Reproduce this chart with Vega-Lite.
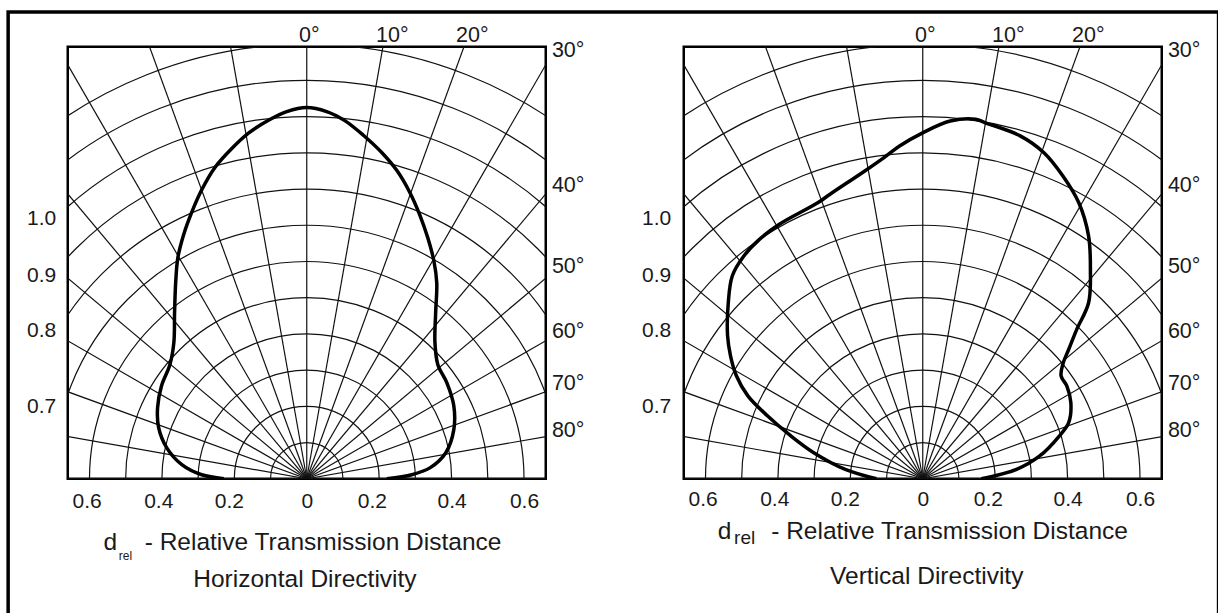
{
  "$schema": "https://vega.github.io/schema/vega-lite/v6.json",
  "background": "white",
  "padding": {"left": 4.75, "top": 8.75, "right": 0, "bottom": 0},
  "spacing": 138,
  "bounds": "flush",
  "config": {
    "view": {"stroke": "black", "strokeWidth": 2.5},
    "font": "Liberation Sans",
    "text": {"font": "Liberation Sans", "color": "#1a1a1a"},
    "axis": {"labelFont": "Liberation Sans", "labelColor": "#1a1a1a", "grid": false, "domain": false, "ticks": false, "tickSize": 0, "title": null, "labelFontSize": 21}
  },
  "datasets": {
    "arcs": [{"r": 0.1, "c": 0, "z": 0}, {"r": 0.2, "c": 0, "z": 0}, {"r": 0.3, "c": 0, "z": 0}, {"r": 0.4, "c": 0, "z": 0}, {"r": 0.5, "c": 0, "z": 0}, {"r": 0.6, "c": 0, "z": 0}, {"r": 0.7, "c": 0, "z": 0}, {"r": 0.8, "c": 0, "z": 0}, {"r": 0.9, "c": 0, "z": 0}, {"r": 1.0, "c": 0, "z": 0}, {"r": 1.1, "c": 0, "z": 0}, {"r": 1.2, "c": 0, "z": 0}],
    "rays": [
      {"a": -80, "x0": 0, "y0": 0, "x": -1.9696, "y": 0.3473}, {"a": -70, "x0": 0, "y0": 0, "x": -1.8794, "y": 0.684}, {"a": -60, "x0": 0, "y0": 0, "x": -1.7321, "y": 1.0},
      {"a": -50, "x0": 0, "y0": 0, "x": -1.5321, "y": 1.2856}, {"a": -40, "x0": 0, "y0": 0, "x": -1.2856, "y": 1.5321}, {"a": -30, "x0": 0, "y0": 0, "x": -1.0, "y": 1.7321},
      {"a": -20, "x0": 0, "y0": 0, "x": -0.684, "y": 1.8794}, {"a": -10, "x0": 0, "y0": 0, "x": -0.3473, "y": 1.9696}, {"a": 0, "x0": 0, "y0": 0, "x": 0, "y": 2.0},
      {"a": 10, "x0": 0, "y0": 0, "x": 0.3473, "y": 1.9696}, {"a": 20, "x0": 0, "y0": 0, "x": 0.684, "y": 1.8794}, {"a": 30, "x0": 0, "y0": 0, "x": 1.0, "y": 1.7321},
      {"a": 40, "x0": 0, "y0": 0, "x": 1.2856, "y": 1.5321}, {"a": 50, "x0": 0, "y0": 0, "x": 1.5321, "y": 1.2856}, {"a": 60, "x0": 0, "y0": 0, "x": 1.7321, "y": 1.0},
      {"a": 70, "x0": 0, "y0": 0, "x": 1.8794, "y": 0.684}, {"a": 80, "x0": 0, "y0": 0, "x": 1.9696, "y": 0.3473}
    ],
    "h": [
      {"i": 1, "x": -0.229, "y": 0.0}, {"i": 2, "x": -0.29, "y": 0.011}, {"i": 3, "x": -0.345, "y": 0.039},
      {"i": 4, "x": -0.387, "y": 0.086}, {"i": 5, "x": -0.409, "y": 0.141}, {"i": 6, "x": -0.412, "y": 0.196},
      {"i": 7, "x": -0.401, "y": 0.257}, {"i": 8, "x": -0.378, "y": 0.315}, {"i": 9, "x": -0.367, "y": 0.376},
      {"i": 10, "x": -0.365, "y": 0.459}, {"i": 11, "x": -0.362, "y": 0.541}, {"i": 12, "x": -0.356, "y": 0.61},
      {"i": 13, "x": -0.34, "y": 0.674}, {"i": 14, "x": -0.318, "y": 0.735}, {"i": 15, "x": -0.29, "y": 0.798},
      {"i": 16, "x": -0.254, "y": 0.859}, {"i": 17, "x": -0.207, "y": 0.912}, {"i": 18, "x": -0.16, "y": 0.955},
      {"i": 19, "x": -0.102, "y": 0.992}, {"i": 20, "x": -0.055, "y": 1.014}, {"i": 21, "x": 0.0, "y": 1.025},
      {"i": 22, "x": 0.055, "y": 1.014}, {"i": 23, "x": 0.105, "y": 0.989}, {"i": 24, "x": 0.157, "y": 0.948},
      {"i": 25, "x": 0.207, "y": 0.901}, {"i": 26, "x": 0.249, "y": 0.851}, {"i": 27, "x": 0.285, "y": 0.79},
      {"i": 28, "x": 0.312, "y": 0.729}, {"i": 29, "x": 0.334, "y": 0.666}, {"i": 30, "x": 0.351, "y": 0.602},
      {"i": 31, "x": 0.359, "y": 0.541}, {"i": 32, "x": 0.356, "y": 0.459}, {"i": 33, "x": 0.354, "y": 0.376},
      {"i": 34, "x": 0.362, "y": 0.315}, {"i": 35, "x": 0.387, "y": 0.265}, {"i": 36, "x": 0.406, "y": 0.202},
      {"i": 37, "x": 0.406, "y": 0.135}, {"i": 38, "x": 0.384, "y": 0.072}, {"i": 39, "x": 0.34, "y": 0.03},
      {"i": 40, "x": 0.29, "y": 0.011}, {"i": 41, "x": 0.221, "y": 0.0}
    ],
    "v": [
      {"i": 1, "x": -0.128, "y": 0.0}, {"i": 2, "x": -0.214, "y": 0.026}, {"i": 3, "x": -0.301, "y": 0.072},
      {"i": 4, "x": -0.365, "y": 0.119}, {"i": 5, "x": -0.429, "y": 0.174}, {"i": 6, "x": -0.483, "y": 0.229},
      {"i": 7, "x": -0.515, "y": 0.285}, {"i": 8, "x": -0.531, "y": 0.34}, {"i": 9, "x": -0.539, "y": 0.395},
      {"i": 10, "x": -0.537, "y": 0.486}, {"i": 11, "x": -0.526, "y": 0.56}, {"i": 12, "x": -0.494, "y": 0.615},
      {"i": 13, "x": -0.451, "y": 0.661}, {"i": 14, "x": -0.397, "y": 0.702}, {"i": 15, "x": -0.29, "y": 0.762},
      {"i": 16, "x": -0.257, "y": 0.785}, {"i": 17, "x": -0.16, "y": 0.85}, {"i": 18, "x": -0.107, "y": 0.887},
      {"i": 19, "x": -0.064, "y": 0.919}, {"i": 20, "x": 0.001, "y": 0.956}, {"i": 21, "x": 0.076, "y": 0.988},
      {"i": 22, "x": 0.146, "y": 0.993}, {"i": 23, "x": 0.173, "y": 0.983}, {"i": 24, "x": 0.269, "y": 0.947},
      {"i": 25, "x": 0.334, "y": 0.901}, {"i": 26, "x": 0.387, "y": 0.836}, {"i": 27, "x": 0.431, "y": 0.762},
      {"i": 28, "x": 0.458, "y": 0.67}, {"i": 29, "x": 0.463, "y": 0.578}, {"i": 30, "x": 0.458, "y": 0.486},
      {"i": 31, "x": 0.425, "y": 0.412}, {"i": 32, "x": 0.403, "y": 0.357}, {"i": 33, "x": 0.388, "y": 0.32},
      {"i": 34, "x": 0.382, "y": 0.284}, {"i": 35, "x": 0.398, "y": 0.256}, {"i": 36, "x": 0.409, "y": 0.21},
      {"i": 37, "x": 0.403, "y": 0.155}, {"i": 38, "x": 0.377, "y": 0.118}, {"i": 39, "x": 0.323, "y": 0.063},
      {"i": 40, "x": 0.259, "y": 0.026}, {"i": 41, "x": 0.162, "y": 0.0}
    ],
    "angles": [
      {"t": "0°", "x": 0.007, "y": 1.207, "side": "top"},
      {"t": "10°", "x": 0.236, "y": 1.207, "side": "top"},
      {"t": "20°", "x": 0.457, "y": 1.207, "side": "top"},
      {"t": "30°", "x": 0.677, "y": 1.18, "side": "right"},
      {"t": "40°", "x": 0.677, "y": 0.808, "side": "right"},
      {"t": "50°", "x": 0.677, "y": 0.586, "side": "right"},
      {"t": "60°", "x": 0.677, "y": 0.405, "side": "right"},
      {"t": "70°", "x": 0.677, "y": 0.262, "side": "right"},
      {"t": "80°", "x": 0.677, "y": 0.131, "side": "right"}
    ],
    "titles": [
      {"p": "h", "role": "L", "t": "d", "x": -0.561, "y": -0.196},
      {"p": "h", "role": "L", "t": "- Relative Transmission Distance", "x": -0.4475, "y": -0.196},
      {"p": "h", "role": "S", "t": "rel", "x": -0.519, "y": -0.224},
      {"p": "h", "role": "C", "t": "Horizontal Directivity", "x": -0.005, "y": -0.298},
      {"p": "v", "role": "L", "t": "d", "x": -0.566, "y": -0.166},
      {"p": "v", "role": "L", "t": "- Relative Transmission Distance", "x": -0.4185, "y": -0.166},
      {"p": "v", "role": "S", "t": "rel", "x": -0.521, "y": -0.1815},
      {"p": "v", "role": "C", "t": "Vertical Directivity", "x": 0.011, "y": -0.29}
    ],
    "frame": [{"x1": -0.8246, "x2": 2.518, "y1": 1.2887, "y2": -0.41}]
  },
  "hconcat": [
    {
      "width": 478,
      "height": 432,
      "layer": [
        {
          "data": {"name": "arcs"},
          "mark": {"type": "arc", "filled": false, "stroke": "#111", "strokeWidth": 1.2, "clip": true, "theta": -1.5708, "theta2": 1.5708},
          "encoding": {
            "x": {"field": "c", "type": "quantitative", "scale": {"domain": [-0.66, 0.66], "nice": false, "zero": false}},
            "y": {"field": "z", "type": "quantitative", "scale": {"domain": [0, 1.193], "nice": false, "zero": false}},
            "radius": {"field": "r", "type": "quantitative", "stack": null, "scale": {"type": "linear", "domain": [0, 1.32], "range": [0, 478], "zero": true}}
          }
        },
        {
          "data": {"name": "rays"},
          "mark": {"type": "rule", "stroke": "#111", "strokeWidth": 1.2, "clip": true},
          "encoding": {
            "x": {"field": "x0", "type": "quantitative", "scale": {"domain": [-0.66, 0.66], "nice": false, "zero": false}},
            "y": {"field": "y0", "type": "quantitative", "scale": {"domain": [0, 1.193], "nice": false, "zero": false}},
            "x2": {"field": "x"},
            "y2": {"field": "y"}
          }
        },
        {
          "data": {"name": "h"},
          "mark": {"type": "line", "stroke": "black", "strokeWidth": 3.5, "interpolate": "catmull-rom", "clip": true},
          "encoding": {
            "x": {"field": "x", "type": "quantitative", "scale": {"domain": [-0.66, 0.66], "nice": false, "zero": false},
              "axis": {"values": [-0.608, -0.41, -0.215, 0, 0.18, 0.4, 0.6], "labelExpr": "datum.value == 0 ? '0' : format(abs(round(datum.value*5))/5, '.1f')", "title": null, "domain": false, "ticks": false, "tickSize": 0, "grid": false, "labelPadding": 12, "labelFontSize": 21, "labelFlush": false, "labelOverlap": false}},
            "y": {"field": "y", "type": "quantitative", "scale": {"domain": [0, 1.193], "nice": false, "zero": false},
              "axis": {"values": [0.199, 0.41, 0.561, 0.719], "labelExpr": "datum.value > 0.65 ? '1.0' : datum.value > 0.5 ? '0.9' : datum.value > 0.3 ? '0.8' : '0.7'", "title": null, "domain": false, "ticks": false, "tickSize": 0, "grid": false, "labelPadding": 12, "labelFontSize": 21, "labelFlush": false, "labelOverlap": false}},
            "order": {"field": "i", "type": "quantitative"}
          }
        },
        {
          "data": {"name": "angles"},
          "transform": [{"filter": "datum.side == 'top'"}],
          "mark": {"type": "text", "align": "center", "baseline": "alphabetic", "fontSize": 21.5},
          "encoding": {
            "x": {"field": "x", "type": "quantitative", "scale": {"domain": [-0.66, 0.66], "nice": false, "zero": false}},
            "y": {"field": "y", "type": "quantitative", "scale": {"domain": [0, 1.193], "nice": false, "zero": false}},
            "text": {"field": "t"}
          }
        },
        {
          "data": {"name": "angles"},
          "transform": [{"filter": "datum.side == 'right'"}],
          "mark": {"type": "text", "align": "left", "baseline": "middle", "fontSize": 21.5},
          "encoding": {
            "x": {"field": "x", "type": "quantitative", "scale": {"domain": [-0.66, 0.66], "nice": false, "zero": false}},
            "y": {"field": "y", "type": "quantitative", "scale": {"domain": [0, 1.193], "nice": false, "zero": false}},
            "text": {"field": "t"}
          }
        },
        {
          "data": {"name": "titles"},
          "transform": [{"filter": "datum.p == 'h' && datum.role == 'L'"}],
          "mark": {"type": "text", "align": "left", "baseline": "alphabetic", "fontSize": 24.5},
          "encoding": {
            "x": {"field": "x", "type": "quantitative", "scale": {"domain": [-0.66, 0.66], "nice": false, "zero": false}},
            "y": {"field": "y", "type": "quantitative", "scale": {"domain": [0, 1.193], "nice": false, "zero": false}},
            "text": {"field": "t"}
          }
        },
        {
          "data": {"name": "titles"},
          "transform": [{"filter": "datum.p == 'h' && datum.role == 'S'"}],
          "mark": {"type": "text", "align": "left", "baseline": "alphabetic", "fontSize": 12},
          "encoding": {
            "x": {"field": "x", "type": "quantitative", "scale": {"domain": [-0.66, 0.66], "nice": false, "zero": false}},
            "y": {"field": "y", "type": "quantitative", "scale": {"domain": [0, 1.193], "nice": false, "zero": false}},
            "text": {"field": "t"}
          }
        },
        {
          "data": {"name": "titles"},
          "transform": [{"filter": "datum.p == 'h' && datum.role == 'C'"}],
          "mark": {"type": "text", "align": "center", "baseline": "alphabetic", "fontSize": 24.5},
          "encoding": {
            "x": {"field": "x", "type": "quantitative", "scale": {"domain": [-0.66, 0.66], "nice": false, "zero": false}},
            "y": {"field": "y", "type": "quantitative", "scale": {"domain": [0, 1.193], "nice": false, "zero": false}},
            "text": {"field": "t"}
          }
        },
        {
          "data": {"name": "frame"},
          "mark": {"type": "rect", "filled": false, "stroke": "black", "strokeWidth": 3.5, "clip": false},
          "encoding": {
            "x": {"field": "x1", "type": "quantitative", "scale": {"domain": [-0.66, 0.66], "nice": false, "zero": false}},
            "x2": {"field": "x2"},
            "y": {"field": "y1", "type": "quantitative", "scale": {"domain": [0, 1.193], "nice": false, "zero": false}},
            "y2": {"field": "y2"}
          }
        }
      ]
    },
    {
      "width": 478,
      "height": 432,
      "layer": [
        {
          "data": {"name": "arcs"},
          "mark": {"type": "arc", "filled": false, "stroke": "#111", "strokeWidth": 1.2, "clip": true, "theta": -1.5708, "theta2": 1.5708},
          "encoding": {
            "x": {"field": "c", "type": "quantitative", "scale": {"domain": [-0.66, 0.66], "nice": false, "zero": false}},
            "y": {"field": "z", "type": "quantitative", "scale": {"domain": [0, 1.193], "nice": false, "zero": false}},
            "radius": {"field": "r", "type": "quantitative", "stack": null, "scale": {"type": "linear", "domain": [0, 1.32], "range": [0, 478], "zero": true}}
          }
        },
        {
          "data": {"name": "rays"},
          "mark": {"type": "rule", "stroke": "#111", "strokeWidth": 1.2, "clip": true},
          "encoding": {
            "x": {"field": "x0", "type": "quantitative", "scale": {"domain": [-0.66, 0.66], "nice": false, "zero": false}},
            "y": {"field": "y0", "type": "quantitative", "scale": {"domain": [0, 1.193], "nice": false, "zero": false}},
            "x2": {"field": "x"},
            "y2": {"field": "y"}
          }
        },
        {
          "data": {"name": "v"},
          "mark": {"type": "line", "stroke": "black", "strokeWidth": 3.5, "interpolate": "catmull-rom", "clip": true},
          "encoding": {
            "x": {"field": "x", "type": "quantitative", "scale": {"domain": [-0.66, 0.66], "nice": false, "zero": false},
              "axis": {"values": [-0.608, -0.41, -0.215, 0, 0.18, 0.4, 0.6], "labelExpr": "datum.value == 0 ? '0' : format(abs(round(datum.value*5))/5, '.1f')", "title": null, "domain": false, "ticks": false, "tickSize": 0, "grid": false, "labelPadding": 10, "labelFontSize": 21, "labelFlush": false, "labelOverlap": false}},
            "y": {"field": "y", "type": "quantitative", "scale": {"domain": [0, 1.193], "nice": false, "zero": false},
              "axis": {"values": [0.199, 0.41, 0.561, 0.719], "labelExpr": "datum.value > 0.65 ? '1.0' : datum.value > 0.5 ? '0.9' : datum.value > 0.3 ? '0.8' : '0.7'", "title": null, "domain": false, "ticks": false, "tickSize": 0, "grid": false, "labelPadding": 13, "labelFontSize": 21, "labelFlush": false, "labelOverlap": false}},
            "order": {"field": "i", "type": "quantitative"}
          }
        },
        {
          "data": {"name": "angles"},
          "transform": [{"filter": "datum.side == 'top'"}],
          "mark": {"type": "text", "align": "center", "baseline": "alphabetic", "fontSize": 21.5},
          "encoding": {
            "x": {"field": "x", "type": "quantitative", "scale": {"domain": [-0.66, 0.66], "nice": false, "zero": false}},
            "y": {"field": "y", "type": "quantitative", "scale": {"domain": [0, 1.193], "nice": false, "zero": false}},
            "text": {"field": "t"}
          }
        },
        {
          "data": {"name": "angles"},
          "transform": [{"filter": "datum.side == 'right'"}],
          "mark": {"type": "text", "align": "left", "baseline": "middle", "fontSize": 21.5},
          "encoding": {
            "x": {"field": "x", "type": "quantitative", "scale": {"domain": [-0.66, 0.66], "nice": false, "zero": false}},
            "y": {"field": "y", "type": "quantitative", "scale": {"domain": [0, 1.193], "nice": false, "zero": false}},
            "text": {"field": "t"}
          }
        },
        {
          "data": {"name": "titles"},
          "transform": [{"filter": "datum.p == 'v' && datum.role == 'L'"}],
          "mark": {"type": "text", "align": "left", "baseline": "alphabetic", "fontSize": 24.5},
          "encoding": {
            "x": {"field": "x", "type": "quantitative", "scale": {"domain": [-0.66, 0.66], "nice": false, "zero": false}},
            "y": {"field": "y", "type": "quantitative", "scale": {"domain": [0, 1.193], "nice": false, "zero": false}},
            "text": {"field": "t"}
          }
        },
        {
          "data": {"name": "titles"},
          "transform": [{"filter": "datum.p == 'v' && datum.role == 'S'"}],
          "mark": {"type": "text", "align": "left", "baseline": "alphabetic", "fontSize": 19},
          "encoding": {
            "x": {"field": "x", "type": "quantitative", "scale": {"domain": [-0.66, 0.66], "nice": false, "zero": false}},
            "y": {"field": "y", "type": "quantitative", "scale": {"domain": [0, 1.193], "nice": false, "zero": false}},
            "text": {"field": "t"}
          }
        },
        {
          "data": {"name": "titles"},
          "transform": [{"filter": "datum.p == 'v' && datum.role == 'C'"}],
          "mark": {"type": "text", "align": "center", "baseline": "alphabetic", "fontSize": 24.5},
          "encoding": {
            "x": {"field": "x", "type": "quantitative", "scale": {"domain": [-0.66, 0.66], "nice": false, "zero": false}},
            "y": {"field": "y", "type": "quantitative", "scale": {"domain": [0, 1.193], "nice": false, "zero": false}},
            "text": {"field": "t"}
          }
        }
      ]
    }
  ]
}
